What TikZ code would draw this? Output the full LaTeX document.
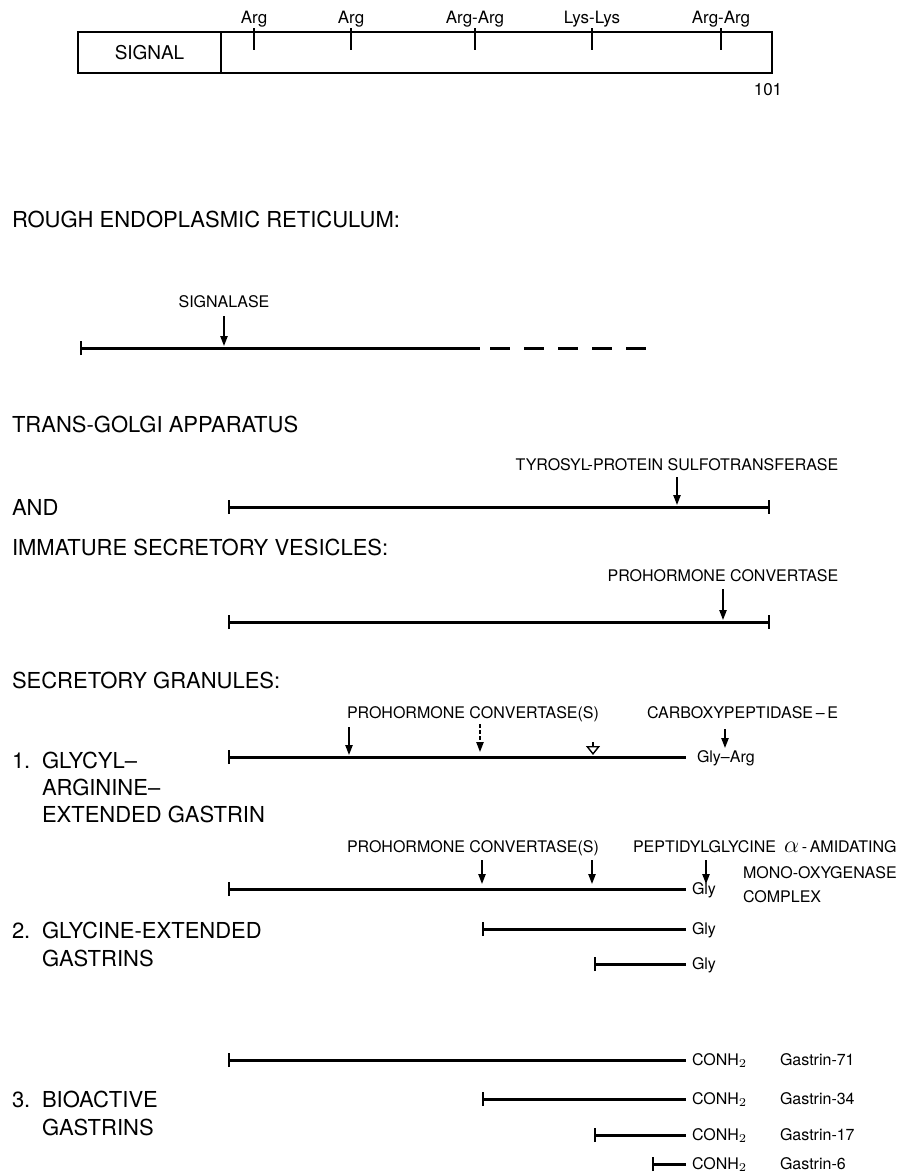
\documentclass[tikz,border=0pt]{standalone}
\usepackage{fontspec}
\setmainfont{TeX Gyre Heros}
\usetikzlibrary{arrows.meta, positioning}

\begin{document}
\begin{tikzpicture}[
    x=0.5pt, y=-0.5pt,
    every node/.style={inner sep=0pt, outer sep=0pt},
    stage/.style={font=\fontsize{11}{13}\selectfont, anchor=base west},
    enzyme/.style={font=\fontsize{8}{9.5}\selectfont, anchor=base},
    tag/.style={font=\fontsize{8}{9.5}\selectfont, anchor=base west},
    precbox/.style={draw, line width=1.4pt, minimum height=20.5pt,
                    anchor=north west, font=\fontsize{9.5}{11}\selectfont},
    chain/.style={line width=1.5pt, {Bar[width=7pt, line width=1.2pt]}-},
    chainboth/.style={line width=1.5pt,
                      {Bar[width=7pt, line width=1.2pt]}-{Bar[width=7pt, line width=1.2pt]}},
    cut/.style={-{Triangle[length=5pt, width=3.6pt]}, line width=0.9pt},
    cutdot/.style={cut, dash pattern=on 1.8pt off 1.2pt},
    cutopen/.style={-{Triangle[open, length=4.5pt, width=7pt]}, line width=0.7pt},
  ]
  \useasboundingbox (0,0) rectangle (916,1174);

  %% --- column x-positions ------------------------------------------------
  \def\xL{12}     % stage labels
  \def\xT{42}     % indented label lines
  \def\xS{228}    % N-terminal end of the chains
  \def\xE{686}    % C-terminal end (Gly / CONH2)
  \def\xR{770}    % full-length precursor end

  %% --- precursor map -----------------------------------------------------
  \node[precbox, minimum width=71.5pt] (signal) at (78,32) {SIGNAL};
  \node[precbox, minimum width=275.5pt] (pro) at (signal.north east) {};
  \foreach \x/\aa [count=\i] in {254/Arg, 351/Arg, 475/Arg-Arg, 592/Lys-Lys, 721/Arg-Arg} {
    \coordinate (t\i) at (\x,28);
    \coordinate (b\i) at (\x,50);
    \draw[line width=0.9pt] (t\i) -- (b\i);
    \node[enzyme, font=\fontsize{8.5}{10}\selectfont] (aa\i) at (\x,23) {\aa};
  }
  \node[enzyme, font=\fontsize{8.5}{10}\selectfont] (len) at (768,95) {101};

  %% --- rough endoplasmic reticulum ---------------------------------------
  \node[stage] (rer) at (\xL,227) {ROUGH ENDOPLASMIC RETICULUM:};
  \node[enzyme] (sigase) at (224,307) {SIGNALASE};
  \coordinate (er0) at (80,348);
  \coordinate (er1) at (480,348);
  \coordinate (er2) at (652,348);
  \coordinate (erc) at (224,346);
  \draw[chain] (er0) -- (er1);
  \draw[line width=1.5pt, dash pattern=on 10pt off 7pt] ([xshift=5pt]er1) -- (er2);
  \draw[cut] ([yshift=-4.5pt]sigase.base) -- (erc);

  %% --- trans-golgi -------------------------------------------------------
  \node[stage] (tga) at (\xL,432) {TRANS-GOLGI APPARATUS};
  \node[stage] (and) at (\xL,515) {AND};
  \node[enzyme] (tpst) at (677,470) {TYROSYL-PROTEIN SULFOTRANSFERASE};
  \coordinate (g0) at (\xS,507);
  \coordinate (g1) at (\xR,507);
  \coordinate (gc) at (677,505);
  \draw[chainboth] (g0) -- (g1);
  \draw[cut] ([yshift=-3.5pt]tpst.base) -- (gc);

  %% --- immature secretory vesicles ---------------------------------------
  \node[stage] (isv) at (\xL,555) {IMMATURE SECRETORY VESICLES:};
  \node[enzyme] (pc) at (723,581) {PROHORMONE CONVERTASE};
  \coordinate (v0) at (\xS,622);
  \coordinate (v1) at (\xR,622);
  \coordinate (vc) at (723,620);
  \draw[chainboth] (v0) -- (v1);
  \draw[cut] ([yshift=-4pt]pc.base) -- (vc);

  %% --- secretory granules ------------------------------------------------
  \node[stage] (sg) at (\xL,688) {SECRETORY GRANULES:};

  % 1. glycyl-arginine-extended
  \node[stage] (n1) at (\xL,768) {1.};
  \node[stage] (g1a) at (\xT,768) {GLYCYL–};
  \node[stage] (g1b) at (\xT,795) {ARGININE–};
  \node[stage] (g1c) at (\xT,822) {EXTENDED GASTRIN};
  \node[tag] (pcs1) at (347,718) {PROHORMONE CONVERTASE(S)};
  \node[tag] (cpe) at (647,718) {CARBOXYPEPTIDASE\,–\,E};
  \coordinate (r1s) at (\xS,757);
  \coordinate (r1e) at (\xE,757);
  \draw[chain] (r1s) -- (r1e);
  \node[tag] (glyarg) at (697,762) {Gly–Arg};
  \coordinate (k1a) at (349,727);  \coordinate (k1b) at (349,755);
  \coordinate (k2a) at (480,724);  \coordinate (k2b) at (480,752);
  \coordinate (k3a) at (593,742);  \coordinate (k3b) at (593,755);
  \coordinate (k4a) at (725,729);  \coordinate (k4b) at (725,748);
  \draw[cut] (k1a) -- (k1b);
  \draw[cutdot] (k2a) -- (k2b);
  \draw[cutopen] (k3a) -- (k3b);
  \draw[cut] (k4a) -- (k4b);

  % 2. glycine-extended
  \node[stage] (n2) at (\xL,938) {2.};
  \node[stage] (g2a) at (\xT,938) {GLYCINE-EXTENDED};
  \node[stage] (g2b) at (\xT,966) {GASTRINS};
  \node[tag] (pcs2) at (347,852) {PROHORMONE CONVERTASE(S)};
  \node[tag] (pam) at (633,852) {PEPTIDYLGLYCINE\enspace{\fontsize{12}{12}\selectfont$\alpha$}\,-\,AMIDATING};
  \node[tag] (pam2) at (743,878) {MONO-OXYGENASE};
  \node[tag] (pam3) at (743,902) {COMPLEX};
  \foreach \x [count=\i] in {482, 592, 706} {
    \coordinate (m\i a) at (\x,860);
    \coordinate (m\i b) at (\x,884);
    \draw[cut] (m\i a) -- (m\i b);
  }
  \foreach \s/\y [count=\i] in {\xS/889, 482/929, 594/964} {
    \coordinate (e\i s) at (\s,\y);
    \coordinate (e\i e) at (\xE,\y);
    \draw[chain] (e\i s) -- (e\i e);
    \node[tag] (gly\i) at ([xshift=3pt, yshift=-2.5pt]e\i e) {Gly};
  }

  % 3. bioactive gastrins
  \node[stage] (n3) at (\xL,1107) {3.};
  \node[stage] (g3a) at (\xT,1107) {BIOACTIVE};
  \node[stage] (g3b) at (\xT,1135) {GASTRINS};
  \foreach \s/\y/\len [count=\i] in {\xS/1060/71, 482/1099/34, 594/1135/17, 652/1164/6} {
    \coordinate (c\i s) at (\s,\y);
    \coordinate (c\i e) at (\xE,\y);
    \draw[chain] (c\i s) -- (c\i e);
    \node[tag] (am\i) at ([xshift=3pt, yshift=-2.5pt]c\i e) {CONH$_2$};
    \node[tag] (gas\i) at (780,\y+5) {Gastrin-\len};
  }

\end{tikzpicture}
\end{document}
